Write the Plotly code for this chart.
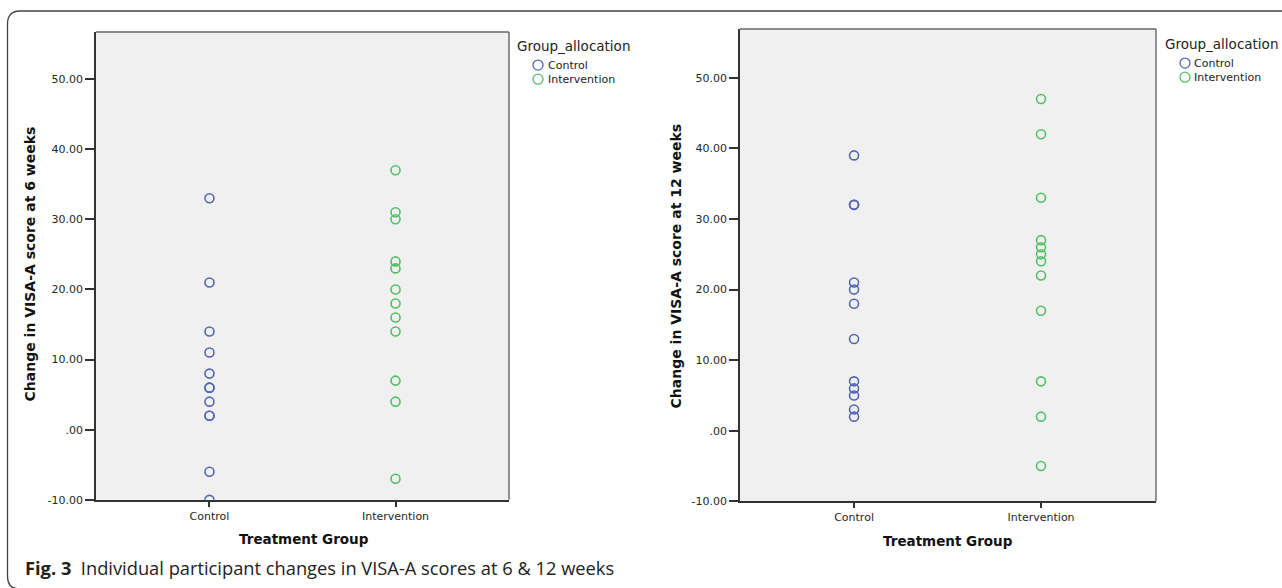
import plotly.graph_objects as go

categories = ["Control", "Intervention"]

# 6-week change values
w6_control = [33, 21, 14, 11, 8, 6, 6, 4, 2, 2, -6, -10]
w6_intervention = [37, 31, 30, 24, 23, 20, 18, 16, 14, 7, 4, -7]

# 12-week change values
w12_control = [39, 32, 32, 21, 20, 18, 13, 7, 6, 5, 3, 2]
w12_intervention = [47, 42, 33, 27, 26, 25, 24, 22, 17, 7, 2, -5]

y_ticks = [-10, 0, 10, 20, 30, 40, 50]
y_ticklabels = ["-10.00", ".00", "10.00", "20.00", "30.00", "40.00", "50.00"]

BLUE = "rgb(84,104,180)"
GREEN = "rgb(82,192,104)"
W, H = 1282, 596
REF_H = 588


def px(x):
    return x / W


def py(y):
    return 1 - y / REF_H


fig = go.Figure()

panels = [
    ("x", "y", w6_control, w6_intervention),
    ("x2", "y2", w12_control, w12_intervention),
]
for xa, ya, ctrl, intv in panels:
    fig.add_trace(go.Scatter(
        x=[categories[0]] * len(ctrl), y=ctrl, mode="markers", xaxis=xa, yaxis=ya,
        marker=dict(symbol="circle-open", size=9, color=BLUE, line=dict(width=1.6, color=BLUE)),
        showlegend=False, name="Control"))
    fig.add_trace(go.Scatter(
        x=[categories[1]] * len(intv), y=intv, mode="markers", xaxis=xa, yaxis=ya,
        marker=dict(symbol="circle-open", size=9, color=GREEN, line=dict(width=1.6, color=GREEN)),
        showlegend=False, name="Intervention"))

tickfont = dict(family="DejaVu Sans", size=11, color="#262626")
axis_common = dict(showline=True, mirror=False, linecolor="#333333", linewidth=1.8,
                   showgrid=False, zeroline=False, ticks="outside", tickcolor="#333333",
                   tickwidth=1.5, tickfont=tickfont)

fig.update_layout(
    width=W, height=H,
    margin=dict(l=0, r=0, t=0, b=0),
    paper_bgcolor="white",
    plot_bgcolor="#f0f0f0",
    hovermode=False,
    xaxis=dict(domain=[px(96), px(509)], type="category", categoryorder="array",
               categoryarray=categories, range=[-0.61, 1.61], ticklen=5, anchor="y", **axis_common),
    yaxis=dict(domain=[py(499), py(32)], range=[-10, 56.7], tickvals=y_ticks,
               ticktext=y_ticklabels, ticklen=9, anchor="x", **axis_common),
    xaxis2=dict(domain=[px(740), px(1156)], type="category", categoryorder="array",
                categoryarray=categories, range=[-0.61, 1.615], ticklen=5, anchor="y2", **axis_common),
    yaxis2=dict(domain=[py(500.5), py(29)], range=[-10, 56.9], tickvals=y_ticks,
                ticktext=y_ticklabels, ticklen=9, anchor="x2", **axis_common),
)

annotations = []
shapes = []

# top and right plot borders (lighter, like SPSS frame)
for xr, yr in [("x domain", "y domain"), ("x2 domain", "y2 domain")]:
    shapes.append(dict(type="line", xref=xr, yref=yr, x0=0, x1=1, y0=1, y1=1,
                       line=dict(color="#666666", width=1.4)))
    shapes.append(dict(type="line", xref=xr, yref=yr, x0=1, x1=1, y0=0, y1=1,
                       line=dict(color="#666666", width=1.4)))

# axis titles
for cx, cy, text in [(30, 264, "Change in VISA-A score at 6 weeks"),
                     (676, 265, "Change in VISA-A score at 12 weeks")]:
    annotations.append(dict(x=px(cx), y=py(cy), xref="paper", yref="paper", text="<b>%s</b>" % text,
                            textangle=-90, showarrow=False,
                            font=dict(family="DejaVu Sans", size=14, color="#111111"),
                            xanchor="center", yanchor="middle"))
for cx, cy in [(304, 538), (948, 540)]:
    annotations.append(dict(x=px(cx), y=py(cy), xref="paper", yref="paper",
                            text="<b>Treatment Group</b>", showarrow=False,
                            font=dict(family="DejaVu Sans", size=13.5, color="#111111"),
                            xanchor="center", yanchor="middle"))

# legends (drawn manually to match compact SPSS style)
for lx, ly, cx, tx in [(515, 46, 538, 546), (1163, 44, 1185, 1192)]:
    annotations.append(dict(x=px(lx), y=py(ly), xref="paper", yref="paper", text="Group_allocation",
                            showarrow=False, xanchor="left", yanchor="middle",
                            font=dict(family="DejaVu Sans", size=13.5, color="#222222")))
    for i, (name, col) in enumerate([("Control", BLUE), ("Intervention", GREEN)]):
        yy = ly + 19 + 14 * i
        r = 5
        shapes.append(dict(type="circle", xref="paper", yref="paper",
                           x0=px(cx - r), x1=px(cx + r), y0=py(yy + r), y1=py(yy - r),
                           line=dict(color=col, width=1.3)))
        annotations.append(dict(x=px(tx), y=py(yy), xref="paper", yref="paper", text=name,
                                showarrow=False, xanchor="left", yanchor="middle",
                                font=dict(family="DejaVu Sans", size=11, color="#222222")))

# caption
annotations.append(dict(x=px(23), y=py(567), xref="paper", yref="paper",
                        text="<b>Fig. 3</b>  Individual participant changes in VISA-A scores at 6 &amp; 12 weeks",
                        showarrow=False, xanchor="left", yanchor="middle",
                        font=dict(family="Open Sans", size=18.3, color="#222222")))

# outer rounded frame (left, top, bottom-left corner)
shapes.append(dict(type="path", xref="paper", yref="paper",
                   path="M %f,%f L %f,%f Q %f,%f %f,%f L %f,%f Q %f,%f %f,%f" % (
                       px(1290), py(11), px(20), py(11), px(7.5), py(11), px(7.5), py(24),
                       px(7.5), py(575), px(7.5), py(587), px(18), py(588)),
                   line=dict(color="#444444", width=1.3)))

fig.update_layout(annotations=annotations, shapes=shapes)
fig.write_html("out.html", config={"displayModeBar": False},
               post_script="document.body.style.margin='0px';document.body.style.overflow='hidden';")
